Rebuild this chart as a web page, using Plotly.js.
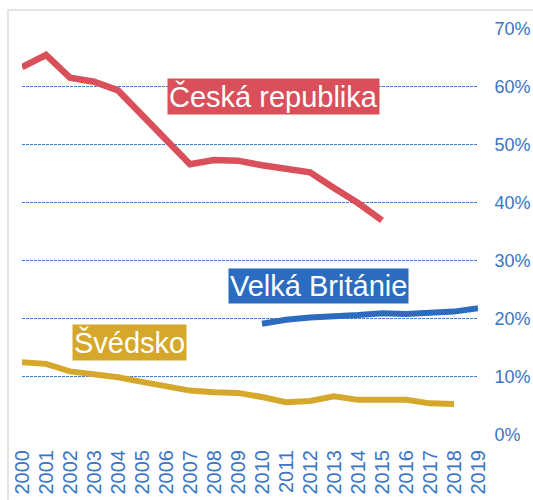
<!DOCTYPE html>
<html>
<head>
<meta charset="utf-8">
<script src="https://cdn.plot.ly/plotly-3.0.1.min.js"></script>
<style>html,body{margin:0;padding:0;background:#fff;}#chart{width:533px;height:500px;}</style>
</head>
<body>
<div id="chart"></div>
<script>
const years = [2000,2001,2002,2003,2004,2005,2006,2007,2008,2009,2010,2011,2012,2013,2014,2015,2016,2017,2018,2019];
const czYears = years.slice(0, 16);
const czValues = [0.633,0.654,0.615,0.608,0.593,0.550,0.507,0.466,0.473,0.472,0.464,0.459,0.452,0.425,0.399,0.369];
const ukYears = years.slice(10, 20);
const ukValues = [0.191,0.198,0.202,0.203,0.206,0.209,0.208,0.210,0.212,0.218];
const seYears = years.slice(0, 19);
const seValues = [0.125,0.122,0.109,0.104,0.099,0.091,0.083,0.076,0.073,0.072,0.065,0.056,0.058,0.066,0.060,0.061,0.060,0.054,0.053];
const yTicks = [0,0.1,0.2,0.3,0.4,0.5,0.6,0.7];
const yTickText = ['0%','10%','20%','30%','40%','50%','60%','70%'];
const seriesNames = ['Česká republika','Velká Británie','Švédsko'];

const RED = '#d9505a', BLUE = '#2b6cc0', GOLD = '#d5a82c';
const FONT = '"Liberation Sans", Arial, sans-serif';

const traces = [
  {x: czYears, y: czValues, name: seriesNames[0], mode: 'lines', line: {color: RED, width: 6.5}},
  {x: ukYears, y: ukValues, name: seriesNames[1], mode: 'lines', line: {color: BLUE, width: 6}},
  {x: seYears, y: seValues, name: seriesNames[2], mode: 'lines', line: {color: GOLD, width: 6}}
];

const labelBox = (text, x, y, color) => ({
  text: text, x: x, y: y, xref: 'x', yref: 'y', showarrow: false,
  bgcolor: color, borderpad: 1,
  font: {family: FONT, size: 29, color: '#ffffff'}
});

const layout = {
  width: 533, height: 500,
  margin: {l: 22, r: 55, t: 28, b: 65},
  paper_bgcolor: '#ffffff', plot_bgcolor: '#ffffff',
  showlegend: false,
  xaxis: {
    range: [2000, 2019], tickvals: years, ticktext: years.map(String),
    tickangle: -90, showgrid: false, zeroline: false, showline: false,
    ticks: 'outside', ticklen: 6, tickcolor: 'rgba(0,0,0,0)',
    tickfont: {family: FONT, size: 20, color: '#3a74c4'}
  },
  yaxis: {
    side: 'right', range: [-0.0005, 0.7005], tickvals: yTicks, ticktext: yTickText,
    showgrid: true, gridcolor: '#3f7ccc', gridwidth: 1, griddash: '3px,1px',
    zeroline: false, showline: false,
    ticks: 'outside', ticklen: 12, tickcolor: 'rgba(0,0,0,0)',
    tickfont: {family: FONT, size: 18, color: '#3a74c4'}
  },
  annotations: [
    labelBox(seriesNames[0], 2010.46, 0.583, RED),
    labelBox(seriesNames[1], 2012.35, 0.257, BLUE),
    labelBox(seriesNames[2], 2004.46, 0.159, GOLD)
  ],
  shapes: [{
    type: 'rect', xref: 'paper', yref: 'paper',
    x0: -0.0307, x1: 1.2, y0: -0.3, y1: 1.044,
    line: {color: '#dcdcdc', width: 1.5}, layer: 'below'
  }]
};

Plotly.newPlot('chart', traces, layout, {displayModeBar: false, staticPlot: true});
</script>
</body>
</html>
